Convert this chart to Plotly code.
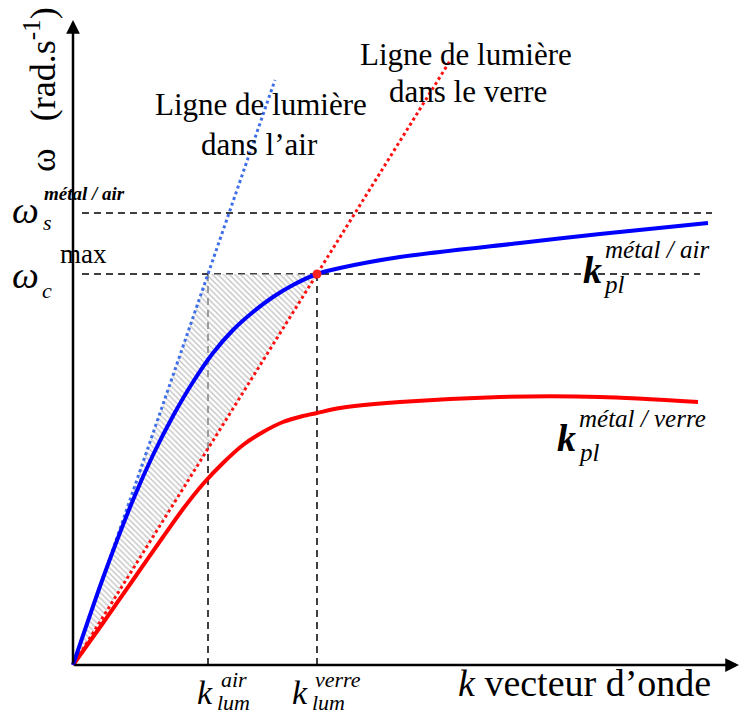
import plotly.graph_objects as go

# ---------------- data (arbitrary units) ----------------
# dispersion curve metal / air (blue)
blue_k = [0, 0.3, 0.6, 0.8, 1.0, 1.2, 1.4, 1.6, 1.8, 2.0, 2.2, 2.44, 2.67, 3.27, 4.47, 5.27, 6.35]
blue_w = [0, 0.87, 1.65, 2.10, 2.49, 2.83, 3.12, 3.35, 3.53, 3.68, 3.80, 3.91, 3.97, 4.08, 4.22, 4.31, 4.42]
# dispersion curve metal / glass (red)
red_k = [0, 0.3, 0.6, 0.9, 1.1, 1.3, 1.5, 1.7, 1.9, 2.1, 2.3, 2.44, 2.67, 3.27, 4.27, 5.27, 6.25]
red_w = [0, 0.42, 0.85, 1.28, 1.56, 1.81, 2.02, 2.20, 2.33, 2.43, 2.49, 2.52, 2.57, 2.63, 2.68, 2.68, 2.63]

omega_s = 4.52          # omega_s metal/air
omega_c = 3.91          # omega_c max
k_lum_air = 1.35
k_lum_verre = 2.44
air_line_kmax = 2.02
verre_line_kmax = 3.78
dash_start = 0.09
omega_s_end = 6.39
omega_c_end = 6.27

slope_air = omega_c / k_lum_air
slope_verre = omega_c / k_lum_verre

FONT = "Liberation Serif"

fig = go.Figure()

# hatched region between the two light lines below omega_c
fig.add_trace(go.Scatter(
    x=[0, k_lum_air, k_lum_verre, 0],
    y=[0, omega_c, omega_c, 0],
    mode="lines", line=dict(width=0), fill="toself",
    fillcolor="rgba(255,255,255,0)",
    fillpattern=dict(shape="\\", fgcolor="#8a8a8a", bgcolor="rgba(255,255,255,0.5)",
                     size=4, solidity=0.35),
    hoverinfo="skip", showlegend=False))

# light lines
fig.add_trace(go.Scatter(x=[0, air_line_kmax], y=[0, slope_air * air_line_kmax],
                         mode="lines", line=dict(color="#3f6fe8", width=3, dash="dot"),
                         showlegend=False))
fig.add_trace(go.Scatter(x=[0, verre_line_kmax], y=[0, slope_verre * verre_line_kmax],
                         mode="lines", line=dict(color="#ff1010", width=3, dash="dot"),
                         showlegend=False))

# dispersion curves
fig.add_trace(go.Scatter(x=red_k, y=red_w, mode="lines",
                         line=dict(color="#ff0000", width=4, shape="spline", smoothing=0.8),
                         showlegend=False))
fig.add_trace(go.Scatter(x=blue_k, y=blue_w, mode="lines",
                         line=dict(color="#0000ff", width=4, shape="spline", smoothing=0.8),
                         showlegend=False))

# intersection point
fig.add_trace(go.Scatter(x=[k_lum_verre], y=[omega_c], mode="markers",
                         marker=dict(color="#ff2020", size=9), showlegend=False))

DASH = "7px,5px"
shapes = [
    dict(type="line", x0=dash_start, x1=omega_s_end, y0=omega_s, y1=omega_s),
    dict(type="line", x0=dash_start, x1=omega_c_end, y0=omega_c, y1=omega_c),
    dict(type="line", x0=k_lum_air, x1=k_lum_air, y0=0, y1=omega_c),
    dict(type="line", x0=k_lum_verre, x1=k_lum_verre, y0=0, y1=omega_c),
]
for s in shapes:
    s.update(xref="x", yref="y", layer="below", line=dict(color="black", width=1.5, dash=DASH))


def P(px, py):
    return (px - 73) / 100.0, (665 - py) / 100.0


anns = []


def txt(px, py, text, size, angle=0):
    x, y = P(px, py)
    anns.append(dict(x=x, y=y, xref="x", yref="y", text=text, showarrow=False,
                     xanchor="center", yanchor="middle", textangle=angle,
                     font=dict(family=FONT, size=size, color="black")))


# axes arrows
ox, oy = P(73, 665)
tx, ty = P(73, 20)
anns.append(dict(x=tx, y=ty, ax=ox, ay=oy, xref="x", yref="y", axref="x", ayref="y",
                 text="", showarrow=True, arrowhead=2, arrowsize=1.1, arrowwidth=2.5,
                 arrowcolor="black", standoff=0))
tx, ty = P(739, 665)
anns.append(dict(x=tx, y=ty, ax=ox, ay=oy, xref="x", yref="y", axref="x", ayref="y",
                 text="", showarrow=True, arrowhead=2, arrowsize=1.1, arrowwidth=2.5,
                 arrowcolor="black", standoff=0))

# text labels
txt(40, 90, "ω   (rad.s<sup>-1</sup>)", 36, angle=-90)
txt(261, 104, "Ligne de lumière", 31)
txt(259, 144, "dans l’air", 31)
txt(466, 54, "Ligne de lumière", 31)
txt(468, 91, "dans le verre", 31)

txt(25, 210, "<i>ω</i>", 38)
txt(47, 222, "<i>s</i>", 22)
txt(84, 193, "<b><i>métal / air</i></b>", 19)
txt(83, 254, "max", 27)
txt(25, 275, "<i>ω</i>", 38)
txt(47, 290, "<i>c</i>", 22)

txt(592, 270, "<b><i>k</i></b>", 38)
txt(614, 284, "<i>pl</i>", 25)
txt(657, 249, "<i>métal / air</i>", 25)
txt(566, 438, "<b><i>k</i></b>", 38)
txt(589, 452, "<i>pl</i>", 25)
txt(642, 418, "<i>métal / verre</i>", 25)

txt(205, 692, "<i>k</i>", 34)
txt(234, 679, "<i>air</i>", 22)
txt(233, 702, "<i>lum</i>", 22)
txt(300, 692, "<i>k</i>", 34)
txt(338, 679, "<i>verre</i>", 22)
txt(328, 702, "<i>lum</i>", 22)

txt(584, 683, "<i>k</i> vecteur d’onde", 38)

fig.update_layout(
    width=740, height=715,
    margin=dict(l=0, r=0, t=0, b=0),
    paper_bgcolor="white", plot_bgcolor="white",
    xaxis=dict(range=[-0.73, 6.67], visible=False, fixedrange=True),
    yaxis=dict(range=[-0.50, 6.65], visible=False, fixedrange=True),
    shapes=shapes, annotations=anns, showlegend=False,
)

fig.write_html("out.html", config={"displayModeBar": False},
               post_script="document.body.style.margin='0';document.body.style.overflow='hidden';")
